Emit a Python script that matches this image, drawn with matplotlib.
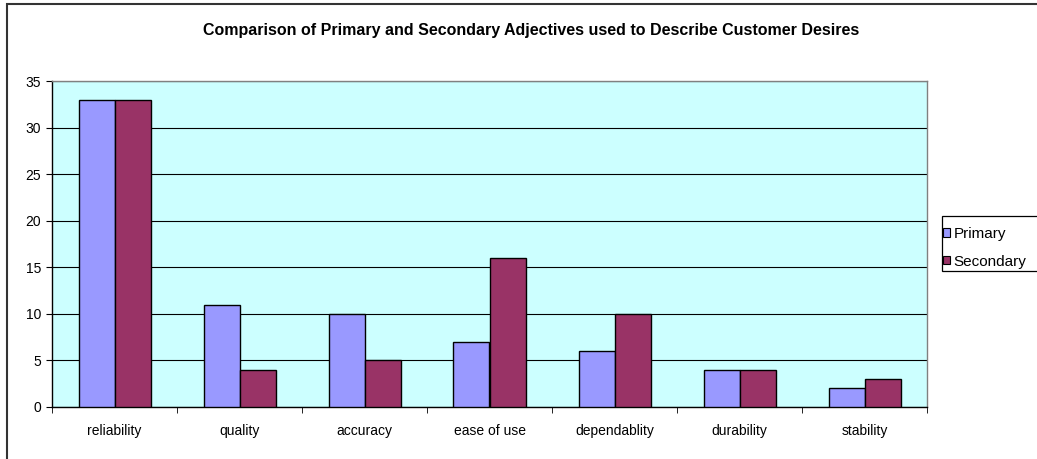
import matplotlib
matplotlib.use("Agg")
import matplotlib.pyplot as plt
from matplotlib.patches import Rectangle, Patch
import numpy as np

categories = ["reliability", "quality", "accuracy", "ease of use", "dependablity", "durability", "stability"]
primary = [33, 11, 10, 7, 6, 4, 2]
secondary = [33, 4, 5, 16, 10, 4, 3]
yticks = [0, 5, 10, 15, 20, 25, 30, 35]
title = "Comparison of Primary and Secondary Adjectives used to Describe Customer Desires"

plt.rcParams['font.family'] = ['Liberation Sans', 'DejaVu Sans']

W, H = 1037, 459
fig = plt.figure(figsize=(W / 100, H / 100), dpi=100)
fig.patch.set_facecolor("white")

# outer chart border
fig.add_artist(Rectangle((7 / W, -0.1), 1.2, (H - 4) / H + 0.1, transform=fig.transFigure,
                         fill=False, edgecolor="#333333", linewidth=1.5))

left, right, top, bottom = 52, 927, 81, 407
ax = fig.add_axes([left / W, (H - bottom) / H, (right - left) / W, (bottom - top) / H])
ax.set_facecolor("#CCFFFF")

x = np.arange(len(categories))
bw = 0.288
ax.bar(x - bw / 2, primary, width=bw, color="#9999FF", edgecolor="black", linewidth=1.0, zorder=3, label="Primary")
ax.bar(x + bw / 2, secondary, width=bw, color="#993366", edgecolor="black", linewidth=1.0, zorder=3, label="Secondary")

ax.set_xlim(-0.5, len(categories) - 0.5)
ax.set_ylim(0, 35)
ax.set_yticks(yticks)
ax.set_yticklabels([str(v) for v in yticks], fontsize=10)
ax.yaxis.grid(True, color="black", linewidth=0.8, zorder=1)
ax.set_axisbelow(True)

ax.set_xticks(x)
ax.set_xticklabels(categories, fontsize=10)
ax.tick_params(axis="x", length=0, pad=12)
ax.set_xticks(np.arange(len(categories) + 1) - 0.5, minor=True)
ax.tick_params(axis="x", which="minor", length=4, direction="out", color="black")
ax.tick_params(axis="y", length=4, direction="out", color="black", pad=4)

for s in ["top", "right"]:
    ax.spines[s].set_color("#808080")
    ax.spines[s].set_linewidth(1.0)
for s in ["left", "bottom"]:
    ax.spines[s].set_color("black")
    ax.spines[s].set_linewidth(1.0)

fig.text(531 / W, (H - 30) / H, title, ha="center", va="center",
         fontsize=11.5, fontweight="bold")

# legend
fig.add_artist(Rectangle((942 / W, (H - 271) / H), 120 / W, 55 / H, transform=fig.transFigure,
                         facecolor="white", edgecolor="black", linewidth=0.9))
handles = [Patch(facecolor="#9999FF", edgecolor="black", linewidth=0.8),
           Patch(facecolor="#993366", edgecolor="black", linewidth=0.8)]
leg = fig.legend(handles, ["Primary", "Secondary"], loc="upper left",
                 bbox_to_anchor=(943 / W, (H - 227) / H), fontsize=11, frameon=False,
                 handlelength=0.46, handleheight=0.46,
                 handletextpad=0.25, borderpad=0.0, labelspacing=0.9, borderaxespad=0)

fig.savefig("out.png", dpi=100, facecolor="white")
